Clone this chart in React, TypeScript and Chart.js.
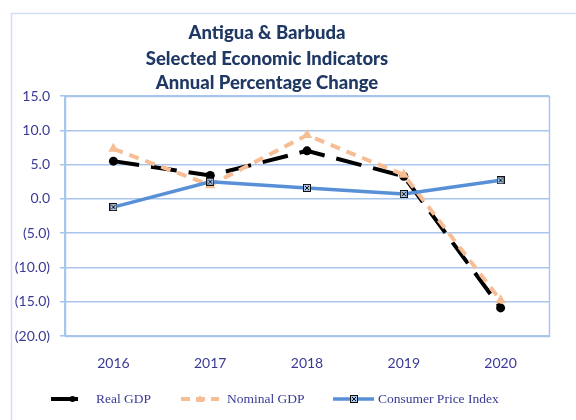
import React, { useEffect, useRef } from 'react';
import { Chart, registerables } from 'chart.js';

Chart.register(...registerables);

const years = ['2016', '2017', '2018', '2019', '2020'];
const realGDP = [5.5, 3.4, 7.0, 3.3, -15.9];
const nominalGDP = [7.3, 2.0, 9.3, 3.5, -14.8];
const cpi = [-1.2, 2.5, 1.6, 0.7, 2.7];
const titleLines = ['Antigua & Barbuda', 'Selected Economic Indicators', 'Annual Percentage Change'];
const seriesNames = ['Real GDP', 'Nominal GDP', 'Consumer Price Index'];
const yMin = -20;
const yMax = 15;
const yStep = 5;

const GRID = '#A9C5EC';
const TICK_COLOR = '#3A3A96';
const TITLE_COLOR = '#1F3864';
const BLACK = '#000000';
const PEACH = '#F7BE95';
const BLUE = '#5890D8';

function makeCpiMarker(): HTMLCanvasElement {
  const c = document.createElement('canvas');
  c.width = 8;
  c.height = 8;
  const g = c.getContext('2d')!;
  g.fillStyle = '#A9C8EE';
  g.fillRect(0, 0, 8, 8);
  g.strokeStyle = '#111111';
  g.lineWidth = 1;
  g.strokeRect(0.5, 0.5, 7, 7);
  g.beginPath();
  g.moveTo(2, 2);
  g.lineTo(6, 6);
  g.moveTo(6, 2);
  g.lineTo(2, 6);
  g.stroke();
  return c;
}

function fmt(v: number): string {
  const s = Math.abs(v).toFixed(1);
  return v < 0 ? '(' + s + ')' : s;
}

export default function App() {
  const ref = useRef<HTMLCanvasElement | null>(null);

  useEffect(() => {
    document.body.style.margin = '0';
    const canvas = ref.current;
    if (!canvas) return;
    const cpiMarker = makeCpiMarker();

    const decor = {
      id: 'decor',
      beforeDatasetsDraw(chart: any) {
        const { ctx, chartArea } = chart;
        ctx.save();
        ctx.strokeStyle = GRID;
        ctx.lineWidth = 1.5;
        ctx.strokeRect(
          Math.round(chartArea.left) + 0.5,
          Math.round(chartArea.top) + 0.5,
          Math.round(chartArea.right - chartArea.left),
          Math.round(chartArea.bottom - chartArea.top)
        );
        ctx.restore();
      },
      afterDraw(chart: any) {
        const { ctx } = chart;
        ctx.save();
        // outer frame
        ctx.strokeStyle = '#D2DFF2';
        ctx.lineWidth = 1.5;
        ctx.beginPath();
        ctx.moveTo(11.5, 420);
        ctx.lineTo(11.5, 13.5);
        ctx.lineTo(576, 13.5);
        ctx.stroke();

        // title
        ctx.fillStyle = TITLE_COLOR;
        ctx.font = '900 18.5px Lato';
        ctx.textAlign = 'center';
        ctx.textBaseline = 'alphabetic';
        const baselines = [39, 64.5, 88.5];
        titleLines.forEach((t, i) => ctx.fillText(t, 267, baselines[i]));

        // legend
        const ly = 399;
        const items = [
          { x0: 51, x1: 78, tx: 96, color: BLACK, dash: [] as number[], w: 4, marker: 'circle' },
          { x0: 181, x1: 219, tx: 227, color: PEACH, dash: [9, 6], w: 4, marker: 'triangle' },
          { x0: 333, x1: 374, tx: 378, color: BLUE, dash: [] as number[], w: 3.5, marker: 'cpi' },
        ];
        items.forEach((it, i) => {
          ctx.strokeStyle = it.color;
          ctx.lineWidth = it.w;
          ctx.setLineDash(it.dash);
          ctx.beginPath();
          ctx.moveTo(it.x0, ly);
          ctx.lineTo(it.x1, ly);
          ctx.stroke();
          ctx.setLineDash([]);
          const cx = (it.x0 + it.x1) / 2;
          if (it.marker === 'circle') {
            ctx.fillStyle = BLACK;
            ctx.beginPath();
            ctx.arc(cx + 8, ly, 3, 0, Math.PI * 2);
            ctx.fill();
          } else if (it.marker === 'triangle') {
            ctx.fillStyle = PEACH;
            ctx.beginPath();
            ctx.moveTo(cx, ly - 4);
            ctx.lineTo(cx + 4, ly + 3);
            ctx.lineTo(cx - 4, ly + 3);
            ctx.closePath();
            ctx.fill();
          } else {
            ctx.drawImage(cpiMarker, Math.round(cx - 4), Math.round(ly - 4));
          }
          ctx.fillStyle = TICK_COLOR;
          ctx.font = '13.5px "Liberation Serif"';
          ctx.textAlign = 'left';
          ctx.textBaseline = 'alphabetic';
          ctx.fillText(seriesNames[i], it.tx, ly + 4);
        });
        ctx.restore();
      },
    };

    const chart = new Chart(canvas, {
      type: 'line',
      data: {
        labels: years,
        datasets: [
          {
            label: seriesNames[0],
            data: realGDP,
            borderColor: BLACK,
            backgroundColor: BLACK,
            borderWidth: 4,
            borderDash: [26, 12],
            pointStyle: 'circle',
            pointRadius: 4.5,
            pointBackgroundColor: BLACK,
            pointBorderColor: BLACK,
            pointBorderWidth: 0,
            tension: 0,
            order: 3,
          },
          {
            label: seriesNames[1],
            data: nominalGDP,
            borderColor: PEACH,
            backgroundColor: PEACH,
            borderWidth: 4,
            borderDash: [10, 7],
            pointStyle: 'triangle',
            pointRadius: 6,
            pointBackgroundColor: PEACH,
            pointBorderColor: PEACH,
            pointBorderWidth: 0,
            tension: 0,
            order: 2,
          },
          {
            label: seriesNames[2],
            data: cpi,
            borderColor: BLUE,
            backgroundColor: BLUE,
            borderWidth: 3.5,
            pointStyle: cpiMarker as any,
            pointRadius: 4,
            tension: 0,
            order: 1,
          },
        ],
      },
      options: {
        responsive: false,
        animation: false,
        layout: { padding: { top: 96, right: 27, bottom: 34, left: 0 } },
        plugins: {
          legend: { display: false },
          title: { display: false },
          tooltip: { enabled: false },
        },
        scales: {
          x: {
            offset: true,
            grid: { display: false, offset: true },
            border: { display: false },
            ticks: {
              color: TICK_COLOR,
              font: { family: 'Lato', size: 14 },
              padding: 11,
              maxRotation: 0,
            },
            afterFit(scale: any) {
              scale.height = 50;
            },
          },
          y: {
            min: yMin,
            max: yMax,
            grid: { color: GRID, lineWidth: 1.5, tickLength: 5, drawTicks: true },
            border: { display: true, color: GRID, width: 1.5 },
            ticks: {
              stepSize: yStep,
              color: TICK_COLOR,
              font: { family: 'Lato', size: 14 },
              padding: 10,
              callback: (v: any) => fmt(Number(v)),
            },
            afterFit(scale: any) {
              scale.width = 65;
            },
          },
        },
      },
      plugins: [decor],
    });

    return () => chart.destroy();
  }, []);

  return (
    <div style={{ position: 'fixed', left: 0, top: 0, width: 576, height: 420, background: '#fff' }}>
      <canvas ref={ref} width={576} height={420} />
    </div>
  );
}
